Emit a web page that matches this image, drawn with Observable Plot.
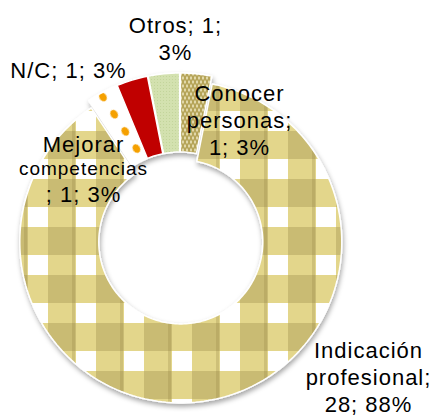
<!DOCTYPE html>
<html><head><meta charset="utf-8">
<script src="https://cdn.jsdelivr.net/npm/d3@7"></script>
<script src="https://cdn.jsdelivr.net/npm/@observablehq/plot@0.6"></script>
<style>body{margin:0;background:#fff}</style>
</head><body><div id="chart"></div>
<script>
// ---- data (clockwise from 12 o'clock) ----
const categories = ["Conocer personas", "Indicación profesional", "Mejorar competencias", "N/C", "Otros"];
const values = [1, 28, 1, 1, 1];
const fills = ["url(#pConocer)", "url(#pGingham)", "url(#pDots)", "#c00000", "url(#pOtros)"];
// label text layout (line breaks as in the original)
const labelFormats = [
  (v, p) => `Conocer\npersonas;\n${v}; ${p}%`,
  (v, p) => `Indicación\nprofesional;\n${v}; ${p}%`,
  (v, p) => `Mejorar\ncompetencias\n; ${v}; ${p}%`,
  (v, p) => `N/C; ${v}; ${p}%`,
  (v, p) => `Otros; ${v};\n${p}%`
];
// label anchor offsets from donut centre (px, y up)
const labelOffsets = [[59, 119], [188, -138], [-97, 68], [-112, 169], [-5, 201]];

// ---- geometry ----
const W = 437, H = 417, CX = 180, CY = 238, R = 161, r = 82, EXPLODE = 4;
const total = d3.sum(values);

const arcPts = [];
let cum = 0;
values.forEach((v, i) => {
  const a0 = cum / total * 2 * Math.PI, a1 = (cum + v) / total * 2 * Math.PI;
  cum += v;
  const m = (a0 + a1) / 2, ox = EXPLODE * Math.sin(m), oy = EXPLODE * Math.cos(m);
  const n = Math.max(4, Math.ceil((a1 - a0) / (Math.PI / 120)));
  for (let k = 0; k <= n; k++) {
    const t = a0 + (a1 - a0) * k / n;
    arcPts.push({
      cat: categories[i], fill: fills[i],
      x1: ox + r * Math.sin(t), y1: oy + r * Math.cos(t),
      x2: ox + R * Math.sin(t), y2: oy + R * Math.cos(t)
    });
  }
});

const labels = categories.map((c, i) => ({
  text: labelFormats[i](values[i], Math.round(values[i] / total * 100)),
  x: labelOffsets[i][0], y: labelOffsets[i][1]
}));

const chart = Plot.plot({
  width: W, height: H, margin: 0,
  x: {domain: [-CX, W - CX], axis: null},
  y: {domain: [-(H - CY), CY], axis: null},
  color: {type: "identity"},
  marks: [
    Plot.area(arcPts, {x1: "x1", y1: "y1", x2: "x2", y2: "y2", z: "cat", fill: "fill",
      stroke: "white", strokeWidth: 1.5, curve: "linear"}),
    Plot.text(labels, {x: "x", y: "y", text: "text", fontSize: 22, lineHeight: 1.22,
      textAnchor: "middle", fill: "#000", fontFamily: "Liberation Sans, Arial, sans-serif"})
  ]
});

// ---- patterns & shadow ----
const svg = d3.select(chart);
const defs = svg.insert("defs", ":first-child");
const f = defs.append("filter").attr("id", "shadow").attr("x", "-10%").attr("y", "-10%").attr("width", "120%").attr("height", "125%");
f.append("feDropShadow").attr("dx", 1).attr("dy", 3).attr("stdDeviation", 2.5).attr("flood-color", "#000").attr("flood-opacity", 0.35);

const g = defs.append("pattern").attr("id", "pGingham").attr("patternUnits", "userSpaceOnUse")
  .attr("x", 0).attr("y", 35).attr("width", 48).attr("height", 48);
g.append("rect").attr("width", 48).attr("height", 48).attr("fill", "#e3d68b");
g.append("rect").attr("width", 28).attr("height", 28).attr("fill", "#c9bb73");
g.append("rect").attr("x", 28).attr("y", 28).attr("width", 20).attr("height", 20).attr("fill", "#ffffff");
g.append("rect").attr("x", 24).attr("y", 0).attr("width", 3).attr("height", 48).attr("fill", "#8f8040").attr("opacity", 0.25);

const dots = defs.append("pattern").attr("id", "pDots").attr("patternUnits", "userSpaceOnUse")
  .attr("x", 0.5).attr("y", 4.25).attr("width", 22).attr("height", 20.5).attr("patternTransform", "rotate(-33)");
dots.append("rect").attr("width", 22).attr("height", 20.5).attr("fill", "#ffffff");
dots.append("ellipse").attr("cx", 11).attr("cy", 10.25).attr("rx", 3.6).attr("ry", 4.6).attr("fill", "#f5a000");

const ot = defs.append("pattern").attr("id", "pOtros").attr("patternUnits", "userSpaceOnUse")
  .attr("width", 3).attr("height", 3);
ot.append("rect").attr("width", 3).attr("height", 3).attr("fill", "#d3e1af");
ot.append("rect").attr("x", 1).attr("y", 1).attr("width", 1).attr("height", 1).attr("fill", "#c3d59b");

const co = defs.append("pattern").attr("id", "pConocer").attr("patternUnits", "userSpaceOnUse")
  .attr("width", 4).attr("height", 8);
co.append("rect").attr("width", 4).attr("height", 8).attr("fill", "#b5a459");
co.append("ellipse").attr("cx", 1).attr("cy", 2).attr("rx", 0.8).attr("ry", 1.8).attr("fill", "#f3ecc8");
co.append("ellipse").attr("cx", 3).attr("cy", 6).attr("rx", 0.8).attr("ry", 1.8).attr("fill", "#f3ecc8");

svg.select('g[aria-label="area"]').attr("filter", "url(#shadow)");
svg.select('g[aria-label="text"]').style("letter-spacing", "1px");
svg.selectAll('g[aria-label="text"] tspan').each(function() {
  if (this.textContent === "competencias") d3.select(this).attr("font-size", 19);
});

document.getElementById("chart").appendChild(chart);
</script>
</body></html>
